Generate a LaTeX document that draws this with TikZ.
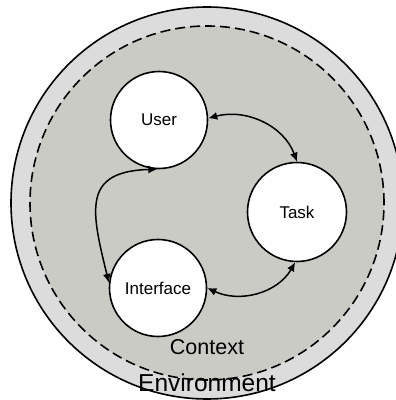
\documentclass[tikz,border=0pt]{standalone}
\usepackage{fontspec}
\setmainfont{Liberation Sans}
\usetikzlibrary{arrows.meta}
\definecolor{envgray}{HTML}{DCDCDC}
\definecolor{ctxgray}{HTML}{CBCBC6}
\begin{document}
\begin{tikzpicture}[x=1pt,y=1pt,
  entity/.style={circle,draw=black,line width=1.6pt,fill=white,minimum size=97pt,inner sep=0pt,font=\fontsize{17}{20}\selectfont},
  link/.style={line width=1.5pt,{Latex[length=9pt,width=8pt]}-{Latex[length=9pt,width=8pt]}}]
\useasboundingbox (0,0) rectangle (396,400);
\clip (0,0) rectangle (396,400);
% environment and context regions
\fill[envgray] (207,197) circle[radius=196];
\draw[line width=1.6pt] (207,197) circle[radius=196];
\fill[ctxgray] (207,197) circle[radius=177];
\draw[line width=1.6pt,dash pattern=on 10pt off 5pt] (207,197) circle[radius=177];
% the three entities
\node[entity] (user) at (159,280) {User};
\node[entity,minimum size=99pt] (task) at (297,188) {Task};
\node[entity] (interface) at (158,112) {Interface};
% relations between them
\draw[link] (user.2) to[out=15,in=110] (task.north);
\draw[link] (user.268) .. controls +(-75,-2) and +(-18,73) .. (interface.174);
\draw[link] (interface.east) to[out=-25,in=-120] (task.-92);
% region labels
\node[font=\fontsize{21.5}{24}\selectfont] (context) at (207,53) {Context};
\node[font=\fontsize{24.5}{28}\selectfont] (environment) at (207,17) {Environment};
\end{tikzpicture}
\end{document}
